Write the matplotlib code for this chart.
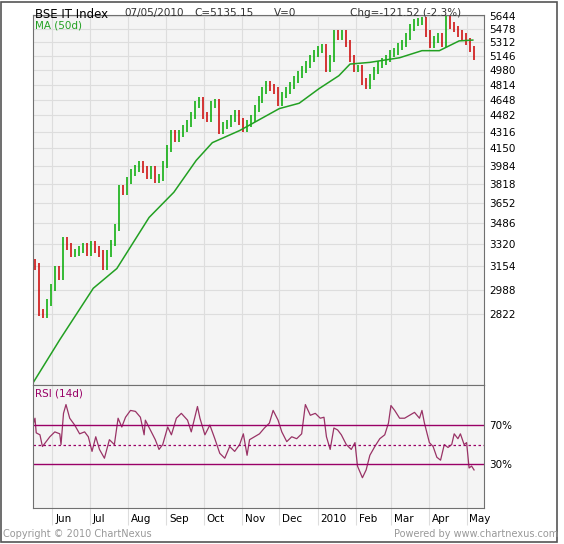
import numpy as np
import pandas as pd
import matplotlib
matplotlib.use("Agg")
import matplotlib.pyplot as plt
import matplotlib.dates as mdates
from matplotlib.ticker import FixedLocator, NullLocator, NullFormatter

start = pd.Timestamp("2009-05-18")
end = pd.Timestamp("2010-05-07")

closes = [3150, 2830, 2820, 2900, 3000, 3130, 3080, 3350, 3300, 3250, 3260, 3280, 3300, 3260,
          3320, 3280, 3250, 3150, 3250, 3330, 3450, 3780, 3750, 3850, 3920, 3960, 4000, 3950,
          3900, 3950, 3860, 3880, 4000, 4150, 4300, 4250, 4300, 4350, 4400, 4480, 4600, 4640,
          4480, 4450, 4600, 4620, 4330, 4380, 4400, 4450, 4500, 4420, 4350, 4400, 4450, 4550,
          4650, 4750, 4820, 4780, 4750, 4620, 4700, 4750, 4800, 4870, 4930, 4990, 5050, 5120,
          5180, 5220, 5250, 5000, 5120, 5420, 5380, 5420, 5300, 5120, 5000, 5000, 4850, 4800,
          4900, 4980, 5050, 5080, 5120, 5180, 5200, 5260, 5300, 5380, 5500, 5560, 5580, 5590,
          5420, 5280, 5350, 5380, 5300, 5600, 5520, 5480, 5420, 5380, 5320, 5230, 5135]

ma_dates = ["2009-05-16", "2009-06-07", "2009-07-04", "2009-07-23", "2009-08-18", "2009-09-07",
            "2009-09-25", "2009-10-08", "2009-10-30", "2009-12-01", "2009-12-17", "2010-01-02",
            "2010-01-18", "2010-01-27", "2010-02-12", "2010-03-08", "2010-03-26", "2010-04-09",
            "2010-04-25", "2010-05-06"]
ma_vals = [2400, 2659, 2997, 3138, 3534, 3748, 4036, 4206, 4326, 4553, 4610, 4769,
           4915, 5050, 5070, 5125, 5210, 5210, 5330, 5340]

rsi_days = [-2, 0, 1, 4, 6, 12, 16, 20, 21, 23, 25, 28, 32, 36, 40, 43, 46, 49, 52, 56, 60, 64,
            67, 70, 73, 77, 81, 85, 88, 89, 93, 97, 100, 103, 107, 110, 114, 118, 123, 126, 131,
            133, 137, 141, 145, 149, 153, 157, 161, 165, 168, 171, 173, 177, 181, 185, 189, 192,
            196, 199, 203, 207, 211, 215, 218, 222, 226, 230, 233, 235, 238, 241, 244, 247, 251,
            255, 258, 260, 264, 267, 270, 274, 278, 282, 285, 287, 290, 294, 298, 302, 306, 310,
            312, 314, 318, 321, 324, 327, 330, 333, 336, 338, 341, 343, 346, 348, 350, 352, 354]
rsi_vals = [68, 77, 62, 60, 48, 58, 63, 61, 50, 82, 91, 77, 70, 61, 63, 58, 43, 58, 45, 36, 55, 50,
            77, 68, 78, 85, 84, 78, 60, 75, 65, 55, 45, 50, 68, 60, 77, 82, 75, 63, 89,
            77, 60, 70, 56, 41, 36, 48, 43, 50, 61, 39, 55, 58, 61, 67, 72, 85,
            75, 63, 53, 58, 56, 61, 91, 80, 82, 77, 78, 58, 45, 67, 65, 60, 50,
            45, 52, 28, 16, 24, 39, 48, 56, 60, 72, 90, 85, 77, 77, 80, 83, 77,
            85, 72, 52, 48, 37, 34, 50, 47, 50, 61, 56, 61, 50, 52, 26, 28, 24]

price_ticks = [2822, 2988, 3154, 3320, 3486, 3652, 3818, 3984, 4150, 4316, 4482, 4648,
               4814, 4980, 5146, 5312, 5478, 5644]
month_labels = ["Jun", "Jul", "Aug", "Sep", "Oct", "Nov", "Dec", "2010", "Feb", "Mar", "Apr", "May"]

bar_dates = pd.date_range(start, end, periods=len(closes))
xlo = start - pd.Timedelta(days=1.6)
xhi = start + pd.Timedelta(days=362)
month_starts = pd.date_range("2009-06-01", "2010-05-01", freq="MS")

fig = plt.figure(figsize=(5.64, 5.44), dpi=100)
fig.patch.set_facecolor("white")
bg = "#f4f4f4"
gridc = "#dddddd"
border = "#707070"

ax = fig.add_axes([0.0585, 0.2923, 0.7996, 0.680])
ax.set_facecolor(bg)
ax.set_yscale("log")
ax.set_ylim(2393, 5660)
ax.set_xlim(xlo, xhi)
for i, c in enumerate(closes):
    prev = closes[i - 1] if i > 0 else c * 1.01
    hi = max(c, prev) * 1.008
    lo = min(c, prev) * 0.992
    col = "#00aa00" if c >= prev else "#cc0000"
    ax.vlines(bar_dates[i], lo, hi, color=col, lw=1.1)
ax.plot(pd.to_datetime(ma_dates), ma_vals, color="#22a022", lw=1.1)
ax.yaxis.set_major_locator(FixedLocator(price_ticks))
ax.yaxis.set_minor_locator(NullLocator())
ax.yaxis.set_minor_formatter(NullFormatter())
ax.set_yticklabels([str(t) for t in price_ticks])
ax.yaxis.tick_right()
ax.set_xticks(month_starts)
ax.set_xticklabels([])
ax.grid(True, color=gridc, lw=0.8)
ax.tick_params(axis="y", length=0, labelsize=7.5, pad=4)
ax.tick_params(axis="x", length=0)
for s in ax.spines.values():
    s.set_color(border)
ax.text(0.005, 0.985, "MA (50d)", transform=ax.transAxes, color="#22a022", fontsize=7.5, va="top")

ax2 = fig.add_axes([0.0585, 0.0662, 0.7996, 0.226])
ax2.set_facecolor(bg)
ax2.set_xlim(xlo, xhi)
ax2.set_ylim(-15, 111)
ax2.plot([start + pd.Timedelta(days=d) for d in rsi_days], rsi_vals, color="#993366", lw=0.9)
ax2.axhline(70, color="#990066", lw=1.0)
ax2.axhline(30, color="#990066", lw=1.0)
ax2.axhline(50, color="#990066", lw=0.9, ls=(0, (2, 2)))
ax2.set_yticks([30, 70])
ax2.set_yticklabels(["30%", "70%"])
ax2.yaxis.tick_right()
ax2.tick_params(axis="y", length=0, labelsize=7.5, pad=4)
ax2.set_xticks(month_starts)
ax2.set_xticklabels([])
ax2.tick_params(axis="x", length=12, color=gridc, direction="out")
ax2.grid(True, axis="x", color=gridc, lw=0.8)
for s in ax2.spines.values():
    s.set_color(border)
ax2.text(0.005, 0.97, "RSI (14d)", transform=ax2.transAxes, color="#990066", fontsize=7.5, va="top")
for d, lab in zip(month_starts, month_labels):
    ax2.annotate(lab, (mdates.date2num(d), 0), xycoords=("data", "axes fraction"),
                 xytext=(2, -4), textcoords="offset points", ha="left", va="top", fontsize=7.5)

fig.text(0.062, 0.985, "BSE IT Index", fontsize=8.5, va="top")
fig.text(0.22, 0.985, "07/05/2010", fontsize=7.5, va="top", color="#333333")
fig.text(0.345, 0.985, "C=5135.15", fontsize=7.5, va="top", color="#333333")
fig.text(0.485, 0.985, "V=0", fontsize=7.5, va="top", color="#333333")
fig.text(0.62, 0.985, "Chg=-121.52 (-2.3%)", fontsize=7.5, va="top", color="#333333")
fig.text(0.005, 0.018, "Copyright \u00a9 2010 ChartNexus", fontsize=7, color="#999999", va="center")
fig.text(0.99, 0.018, "Powered by www.chartnexus.com", fontsize=7, color="#999999", va="center", ha="right")
fig.add_artist(plt.Rectangle((0.002, 0.004), 0.985, 0.992, transform=fig.transFigure,
                             fill=False, edgecolor="#555555", lw=1.2))

fig.savefig("out.png", dpi=100)
